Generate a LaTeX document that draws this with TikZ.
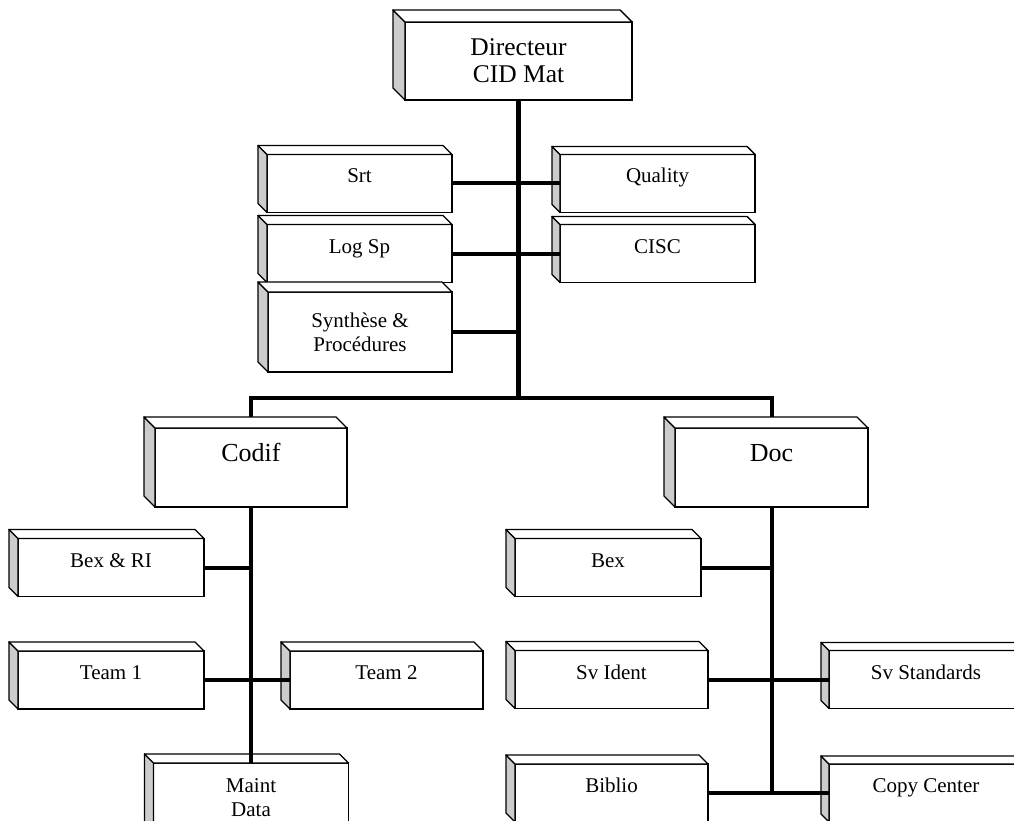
\documentclass[tikz,border=0pt]{standalone}
\usepackage{fontspec}
\setmainfont{Liberation Serif}
\tikzset{
  unit/.style={draw, fill=white, line width=1.4pt, outer sep=0pt, inner xsep=0pt, inner ysep=0pt,
    font=\fontsize{21}{24}\selectfont},
  small/.style={unit, minimum width=#1, text height=28.5pt, text depth=29.5pt},
  big/.style={unit, minimum width=#1, text height=33pt, text depth=46pt, font=\fontsize{26}{28}\selectfont},
  multi/.style={unit, minimum width=#1, minimum height=80pt, align=center},
  face/.style={draw, line width=1.4pt, line join=round},
  link/.style={draw, line width=4pt},
}
\begin{document}
\begin{tikzpicture}[x=1pt, y=-1pt]
    \useasboundingbox (0,0) rectangle (1014,821);

    \node[multi=227pt, minimum height=78pt, font=\fontsize{25.5}{27}\selectfont] (dir) at (518.5,61) {Directeur\\CID Mat};
    \node[small=185pt] (srt) at (359.5,183.5) {Srt};
    \node[small=185pt] (logsp) at (359.5,253.5) {Log Sp};
    \node[multi=184pt] (synth) at (360,332) {Synthèse \&\\Procédures};
    \node[small=195pt] (quality) at (657.5,183.5) {Quality};
    \node[small=195pt] (cisc) at (657.5,253.5) {CISC};

    \node[big=192pt] (codif) at (251,467.5) {Codif};
    \node[big=193pt] (doc) at (771.5,467.5) {Doc};

    \node[small=186pt] (bexri) at (111,567.5) {Bex \& RI};
    \node[small=186pt] (team1) at (111,680) {Team 1};
    \node[small=193pt] (team2) at (386.5,680) {Team 2};
    \node[multi=195pt, minimum height=0pt, text height=53pt, text depth=27pt] (maint) at (251,803) {Maint\\Data};

    \node[small=186pt] (bex) at (608,567.5) {Bex};
    \node[small=193pt] (svident) at (611.5,679.5) {Sv Ident};
    \node[small=194pt] (svstd) at (926,679.5) {Sv Standards};
    \node[small=193pt] (biblio) at (611.5,793) {Biblio};
    \node[small=194pt] (copy) at (926,793) {Copy Center};

    % side and top faces
    \foreach \n/\dd in {dir/12, srt/9, logsp/9, synth/10, quality/8, cisc/8, codif/11, doc/11,
        bexri/9, team1/9, team2/9, maint/9, bex/9, svident/9, svstd/8, biblio/9, copy/8}{
      \filldraw[face, fill=gray!40] (\n.south west) -- (\n.north west) -- ++(-\dd,-\dd)
        -- ([shift={(-\dd,-\dd)}]\n.south west) -- cycle;
      \filldraw[face, fill=white] (\n.north west) -- ++(-\dd,-\dd)
        -- ([shift={(-\dd,-\dd)}]\n.north east) -- (\n.north east) -- cycle;
    }

    \coordinate (bus) at (518.5,398);
    \path[link, line width=5pt] (dir) -- (bus);
    \draw[link] ([yshift=11pt]codif.north) |- (bus) -| ([yshift=11pt]doc.north);

    \path[link]
      (srt) edge (quality)
      (logsp) edge (cisc)
      (team1) edge (team2)
      (svident) edge (svstd)
      (biblio) edge (copy);

    \draw[link] (synth.east) -| (dir.south);
    \draw[link] (codif) -- (maint);
    \draw[link] (bexri.east) -| (codif.south);
    \draw[link] (doc.south) -- (doc.south |- copy.west);
    \draw[link] (bex.east) -| (doc.south);
  \end{tikzpicture}
\end{document}
